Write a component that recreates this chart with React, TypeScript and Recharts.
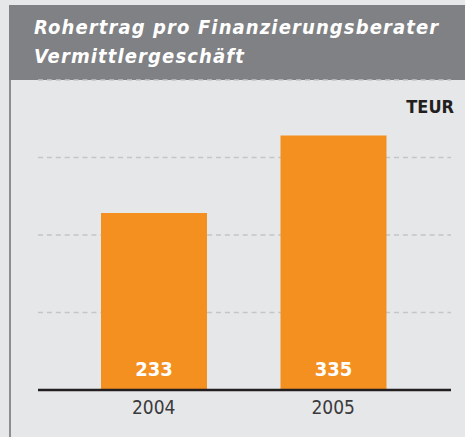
import { BarChart, Bar, XAxis, YAxis, CartesianGrid, LabelList } from "recharts";

const years = ["2004", "2005"];
const rohertrag = [233, 335];
const gridValues = [102, 204, 306];
const yMax = 408;

const data = years.map((year, i) => ({ year, value: rohertrag[i] }));

const condensed = "'DejaVu Sans Condensed', 'DejaVu Sans', sans-serif";

const renderValue = (props: any) => {
  const { x, y, width, height, value } = props;
  return (
    <text
      x={x + width / 2}
      y={y + height - 14.5}
      textAnchor="middle"
      fill="#ffffff"
      fontSize={20}
      fontWeight={700}
      fontFamily={condensed}
      style={{ fontStretch: "condensed" }}
    >
      {value}
    </text>
  );
};

const App = () => {
  return (
    <div
      style={{
        position: "absolute",
        left: 0,
        top: 0,
        width: 465,
        height: 437,
        background: "#e6e7e8",
        overflow: "hidden",
        fontFamily: condensed,
        fontStretch: "condensed",
      }}
    >
      <div
        style={{
          position: "absolute",
          left: 9,
          top: 5,
          width: 456,
          height: 75,
          background: "#808184",
          boxSizing: "border-box",
          paddingTop: 8,
          paddingLeft: 25,
          color: "#ffffff",
          fontSize: 20,
          fontWeight: 700,
          fontStyle: "italic",
          letterSpacing: 1.12,
          lineHeight: "28.5px",
          whiteSpace: "nowrap",
        }}
      >
        <div>Rohertrag pro Finanzierungsberater</div>
        <div>Vermittlergeschäft</div>
      </div>
      <div
        style={{
          position: "absolute",
          left: 9,
          top: 80,
          width: 2,
          height: 357,
          background: "#8d8e90",
        }}
      />
      <div
        style={{
          position: "absolute",
          right: 11,
          top: 97,
          fontSize: 18,
          lineHeight: "20px",
          fontWeight: 700,
          color: "#231f20",
        }}
      >
        TEUR
      </div>
      <BarChart
        width={465}
        height={437}
        data={data}
        margin={{ top: 80, right: 14, bottom: 17, left: 38 }}
        style={{ position: "absolute", left: 0, top: 0 }}
      >
        <CartesianGrid
          vertical={false}
          stroke="#c4c5c7"
          strokeWidth={1.5}
          strokeDasharray="5 3.9"
        />
        <XAxis
          dataKey="year"
          height={30}
          padding={{ left: 26, right: 28 }}
          tickLine={false}
          tickMargin={5}
          axisLine={{ stroke: "#231f20", strokeWidth: 2.5 }}
          tick={{ fontSize: 19, fill: "#3a3a3c", fontFamily: condensed }}
        />
        <YAxis hide domain={[0, yMax]} ticks={gridValues} />
        <Bar dataKey="value" fill="#f39020" barSize={106} isAnimationActive={false}>
          <LabelList dataKey="value" content={renderValue} />
        </Bar>
      </BarChart>
    </div>
  );
};

export default App;
